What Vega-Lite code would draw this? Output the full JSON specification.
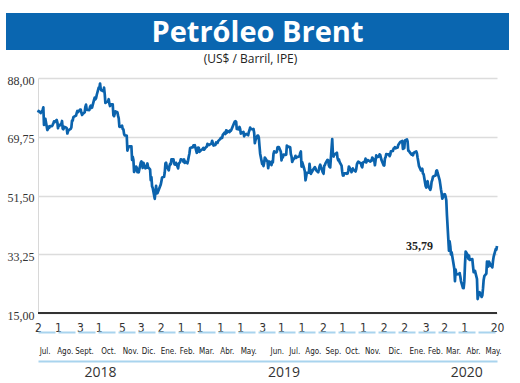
{
 "$schema": "https://vega.github.io/schema/vega-lite/v6.json",
 "padding": {"left": 6, "top": 13, "right": 0, "bottom": 0},
 "config": {"view": {"stroke": null}, "font": "Liberation Sans"},
 "spacing": 3,
 "vconcat": [
  {
   "width": 503, "height": 37,
   "view": {"fill": "#0a66b0", "stroke": null},
   "data": {"values": [{"label": "Petróleo Brent"}]},
   "mark": {"type": "text", "color": "white", "font": "Open Sans", "fontWeight": "bold", "fontSize": 29, "baseline": "middle", "align": "center", "dy": 1},
   "encoding": {"text": {"field": "label"}}
  },
  {
   "width": 491, "height": 235,
   "title": {"text": "(US$ / Barril, IPE)", "fontSize": 12, "font": "Open Sans", "fontWeight": "normal", "color": "#222", "offset": 8, "anchor": "middle", "dx": -1},
   "data": {"values": [
{"d":"2018-07-02","v":77.30},{"d":"2018-07-03","v":77.76},{"d":"2018-07-05","v":77.39},{"d":"2018-07-06","v":77.11},{"d":"2018-07-09","v":78.07},{"d":"2018-07-10","v":78.86},{"d":"2018-07-11","v":73.40},{"d":"2018-07-12","v":74.45},{"d":"2018-07-13","v":75.33},{"d":"2018-07-16","v":71.84},{"d":"2018-07-17","v":72.16},{"d":"2018-07-18","v":72.90},{"d":"2018-07-19","v":72.58},{"d":"2018-07-20","v":73.07},{"d":"2018-07-23","v":73.06},{"d":"2018-07-24","v":73.44},{"d":"2018-07-25","v":73.93},{"d":"2018-07-26","v":74.54},{"d":"2018-07-27","v":74.29},{"d":"2018-07-30","v":74.97},{"d":"2018-07-31","v":74.25},
{"d":"2018-08-01","v":72.39},{"d":"2018-08-02","v":73.45},{"d":"2018-08-03","v":73.21},{"d":"2018-08-06","v":73.75},{"d":"2018-08-07","v":74.65},{"d":"2018-08-08","v":72.28},{"d":"2018-08-09","v":72.07},{"d":"2018-08-10","v":72.81},{"d":"2018-08-13","v":72.61},{"d":"2018-08-14","v":72.46},{"d":"2018-08-15","v":70.76},{"d":"2018-08-16","v":71.43},{"d":"2018-08-17","v":71.83},{"d":"2018-08-20","v":72.21},{"d":"2018-08-21","v":72.63},{"d":"2018-08-22","v":74.78},{"d":"2018-08-23","v":74.73},{"d":"2018-08-24","v":75.82},{"d":"2018-08-27","v":76.21},{"d":"2018-08-28","v":76.31},{"d":"2018-08-29","v":77.14},{"d":"2018-08-30","v":77.77},{"d":"2018-08-31","v":77.42},
{"d":"2018-09-03","v":78.15},{"d":"2018-09-04","v":78.17},{"d":"2018-09-05","v":77.27},{"d":"2018-09-06","v":76.50},{"d":"2018-09-07","v":76.83},{"d":"2018-09-10","v":77.37},{"d":"2018-09-11","v":79.06},{"d":"2018-09-12","v":79.74},{"d":"2018-09-13","v":78.18},{"d":"2018-09-14","v":78.09},{"d":"2018-09-17","v":78.05},{"d":"2018-09-18","v":79.03},{"d":"2018-09-19","v":79.40},{"d":"2018-09-20","v":78.70},{"d":"2018-09-21","v":78.80},{"d":"2018-09-24","v":81.20},{"d":"2018-09-25","v":81.87},{"d":"2018-09-26","v":81.34},{"d":"2018-09-27","v":81.72},{"d":"2018-09-28","v":82.72},
{"d":"2018-10-01","v":84.98},{"d":"2018-10-02","v":84.80},{"d":"2018-10-03","v":86.29},{"d":"2018-10-04","v":84.58},{"d":"2018-10-05","v":84.16},{"d":"2018-10-08","v":83.91},{"d":"2018-10-09","v":85.00},{"d":"2018-10-10","v":83.09},{"d":"2018-10-11","v":80.26},{"d":"2018-10-12","v":80.43},{"d":"2018-10-15","v":80.78},{"d":"2018-10-16","v":81.41},{"d":"2018-10-17","v":80.05},{"d":"2018-10-18","v":79.29},{"d":"2018-10-19","v":79.78},{"d":"2018-10-22","v":79.83},{"d":"2018-10-23","v":76.44},{"d":"2018-10-24","v":76.17},{"d":"2018-10-25","v":76.89},{"d":"2018-10-26","v":77.62},{"d":"2018-10-29","v":77.34},{"d":"2018-10-30","v":76.31},{"d":"2018-10-31","v":75.47},
{"d":"2018-11-01","v":72.89},{"d":"2018-11-02","v":72.83},{"d":"2018-11-05","v":73.17},{"d":"2018-11-06","v":72.13},{"d":"2018-11-07","v":72.07},{"d":"2018-11-08","v":70.65},{"d":"2018-11-09","v":70.18},{"d":"2018-11-12","v":70.12},{"d":"2018-11-13","v":65.47},{"d":"2018-11-14","v":66.12},{"d":"2018-11-15","v":66.62},{"d":"2018-11-16","v":66.76},{"d":"2018-11-19","v":66.79},{"d":"2018-11-20","v":62.53},{"d":"2018-11-21","v":63.48},{"d":"2018-11-22","v":62.60},{"d":"2018-11-23","v":58.80},{"d":"2018-11-26","v":60.48},{"d":"2018-11-27","v":60.21},{"d":"2018-11-28","v":58.76},{"d":"2018-11-29","v":59.51},{"d":"2018-11-30","v":58.71},
{"d":"2018-12-03","v":61.69},{"d":"2018-12-04","v":62.08},{"d":"2018-12-05","v":61.56},{"d":"2018-12-06","v":60.06},{"d":"2018-12-07","v":61.67},{"d":"2018-12-10","v":59.97},{"d":"2018-12-11","v":60.20},{"d":"2018-12-12","v":60.15},{"d":"2018-12-13","v":61.45},{"d":"2018-12-14","v":60.28},{"d":"2018-12-17","v":59.61},{"d":"2018-12-18","v":56.26},{"d":"2018-12-19","v":57.24},{"d":"2018-12-20","v":54.35},{"d":"2018-12-21","v":53.82},{"d":"2018-12-24","v":50.47},{"d":"2018-12-26","v":54.47},{"d":"2018-12-27","v":52.16},{"d":"2018-12-28","v":52.20},{"d":"2018-12-31","v":53.80},
{"d":"2019-01-02","v":54.91},{"d":"2019-01-03","v":55.95},{"d":"2019-01-04","v":57.06},{"d":"2019-01-07","v":57.33},{"d":"2019-01-08","v":58.72},{"d":"2019-01-09","v":61.44},{"d":"2019-01-10","v":61.68},{"d":"2019-01-11","v":60.48},{"d":"2019-01-14","v":59.35},{"d":"2019-01-15","v":60.64},{"d":"2019-01-16","v":61.32},{"d":"2019-01-17","v":61.18},{"d":"2019-01-18","v":62.70},{"d":"2019-01-21","v":62.74},{"d":"2019-01-22","v":61.50},{"d":"2019-01-23","v":61.14},{"d":"2019-01-24","v":61.09},{"d":"2019-01-25","v":61.64},{"d":"2019-01-28","v":59.93},{"d":"2019-01-29","v":61.32},{"d":"2019-01-30","v":61.65},{"d":"2019-01-31","v":61.89},
{"d":"2019-02-01","v":62.75},{"d":"2019-02-04","v":62.51},{"d":"2019-02-05","v":61.98},{"d":"2019-02-06","v":62.69},{"d":"2019-02-07","v":61.63},{"d":"2019-02-08","v":62.10},{"d":"2019-02-11","v":61.51},{"d":"2019-02-12","v":62.42},{"d":"2019-02-13","v":63.61},{"d":"2019-02-14","v":64.57},{"d":"2019-02-15","v":66.25},{"d":"2019-02-18","v":66.50},{"d":"2019-02-19","v":66.45},{"d":"2019-02-20","v":67.08},{"d":"2019-02-21","v":67.07},{"d":"2019-02-22","v":67.12},{"d":"2019-02-25","v":64.76},{"d":"2019-02-26","v":65.21},{"d":"2019-02-27","v":66.39},{"d":"2019-02-28","v":66.31},
{"d":"2019-03-01","v":65.07},{"d":"2019-03-04","v":65.67},{"d":"2019-03-05","v":65.86},{"d":"2019-03-06","v":65.99},{"d":"2019-03-07","v":66.30},{"d":"2019-03-08","v":65.74},{"d":"2019-03-11","v":66.58},{"d":"2019-03-12","v":66.67},{"d":"2019-03-13","v":67.55},{"d":"2019-03-14","v":67.23},{"d":"2019-03-15","v":67.16},{"d":"2019-03-18","v":67.54},{"d":"2019-03-19","v":67.61},{"d":"2019-03-20","v":68.50},{"d":"2019-03-21","v":67.86},{"d":"2019-03-22","v":67.03},{"d":"2019-03-25","v":67.21},{"d":"2019-03-26","v":67.97},{"d":"2019-03-27","v":67.83},{"d":"2019-03-28","v":67.82},{"d":"2019-03-29","v":68.39},
{"d":"2019-04-01","v":69.01},{"d":"2019-04-02","v":69.37},{"d":"2019-04-03","v":69.31},{"d":"2019-04-04","v":69.40},{"d":"2019-04-05","v":70.34},{"d":"2019-04-08","v":71.10},{"d":"2019-04-09","v":70.61},{"d":"2019-04-10","v":71.73},{"d":"2019-04-11","v":71.02},{"d":"2019-04-12","v":71.55},{"d":"2019-04-15","v":71.18},{"d":"2019-04-16","v":71.72},{"d":"2019-04-17","v":71.62},{"d":"2019-04-18","v":71.97},{"d":"2019-04-22","v":74.04},{"d":"2019-04-23","v":74.51},{"d":"2019-04-24","v":74.57},{"d":"2019-04-25","v":74.35},{"d":"2019-04-26","v":72.15},{"d":"2019-04-29","v":72.04},{"d":"2019-04-30","v":72.80},
{"d":"2019-05-01","v":72.18},{"d":"2019-05-02","v":70.75},{"d":"2019-05-03","v":70.85},{"d":"2019-05-06","v":71.24},{"d":"2019-05-07","v":69.88},{"d":"2019-05-08","v":70.37},{"d":"2019-05-09","v":70.39},{"d":"2019-05-10","v":70.62},{"d":"2019-05-13","v":70.23},{"d":"2019-05-14","v":71.24},{"d":"2019-05-15","v":71.77},{"d":"2019-05-16","v":72.62},{"d":"2019-05-17","v":72.21},{"d":"2019-05-20","v":71.97},{"d":"2019-05-21","v":72.18},{"d":"2019-05-22","v":70.99},{"d":"2019-05-23","v":67.76},{"d":"2019-05-24","v":68.69},{"d":"2019-05-27","v":70.11},{"d":"2019-05-28","v":70.11},{"d":"2019-05-29","v":69.45},{"d":"2019-05-30","v":66.87},{"d":"2019-05-31","v":64.49},
{"d":"2019-06-03","v":61.28},{"d":"2019-06-04","v":61.97},{"d":"2019-06-05","v":60.63},{"d":"2019-06-06","v":61.67},{"d":"2019-06-07","v":63.29},{"d":"2019-06-10","v":62.29},{"d":"2019-06-11","v":62.29},{"d":"2019-06-12","v":59.97},{"d":"2019-06-13","v":61.31},{"d":"2019-06-14","v":62.01},{"d":"2019-06-17","v":60.94},{"d":"2019-06-18","v":62.14},{"d":"2019-06-19","v":61.82},{"d":"2019-06-20","v":64.45},{"d":"2019-06-21","v":65.20},{"d":"2019-06-24","v":64.86},{"d":"2019-06-25","v":65.05},{"d":"2019-06-26","v":66.49},{"d":"2019-06-27","v":66.55},{"d":"2019-06-28","v":66.55},
{"d":"2019-07-01","v":65.06},{"d":"2019-07-02","v":62.40},{"d":"2019-07-03","v":63.82},{"d":"2019-07-04","v":63.30},{"d":"2019-07-05","v":64.23},{"d":"2019-07-08","v":64.11},{"d":"2019-07-09","v":64.16},{"d":"2019-07-10","v":67.01},{"d":"2019-07-11","v":66.52},{"d":"2019-07-12","v":66.72},{"d":"2019-07-15","v":66.48},{"d":"2019-07-16","v":64.35},{"d":"2019-07-17","v":63.66},{"d":"2019-07-18","v":61.93},{"d":"2019-07-19","v":62.47},{"d":"2019-07-22","v":63.26},{"d":"2019-07-23","v":63.83},{"d":"2019-07-24","v":63.18},{"d":"2019-07-25","v":63.39},{"d":"2019-07-26","v":63.46},{"d":"2019-07-29","v":63.71},{"d":"2019-07-30","v":64.72},{"d":"2019-07-31","v":65.17},
{"d":"2019-08-01","v":60.50},{"d":"2019-08-02","v":61.89},{"d":"2019-08-05","v":59.81},{"d":"2019-08-06","v":58.94},{"d":"2019-08-07","v":56.23},{"d":"2019-08-08","v":57.38},{"d":"2019-08-09","v":58.53},{"d":"2019-08-12","v":58.57},{"d":"2019-08-13","v":61.30},{"d":"2019-08-14","v":59.48},{"d":"2019-08-15","v":58.23},{"d":"2019-08-16","v":58.64},{"d":"2019-08-19","v":59.74},{"d":"2019-08-20","v":60.03},{"d":"2019-08-21","v":60.30},{"d":"2019-08-22","v":59.92},{"d":"2019-08-23","v":59.34},{"d":"2019-08-26","v":58.70},{"d":"2019-08-27","v":59.51},{"d":"2019-08-28","v":60.49},{"d":"2019-08-29","v":61.08},{"d":"2019-08-30","v":60.43},
{"d":"2019-09-02","v":58.66},{"d":"2019-09-03","v":58.26},{"d":"2019-09-04","v":60.70},{"d":"2019-09-05","v":60.95},{"d":"2019-09-06","v":61.54},{"d":"2019-09-09","v":62.59},{"d":"2019-09-10","v":62.38},{"d":"2019-09-11","v":60.81},{"d":"2019-09-12","v":60.38},{"d":"2019-09-13","v":60.22},{"d":"2019-09-16","v":69.02},{"d":"2019-09-17","v":64.55},{"d":"2019-09-18","v":63.60},{"d":"2019-09-19","v":64.40},{"d":"2019-09-20","v":64.28},{"d":"2019-09-23","v":64.77},{"d":"2019-09-24","v":63.10},{"d":"2019-09-25","v":62.39},{"d":"2019-09-26","v":62.74},{"d":"2019-09-27","v":61.91},{"d":"2019-09-30","v":60.78},
{"d":"2019-10-01","v":58.89},{"d":"2019-10-02","v":57.69},{"d":"2019-10-03","v":57.71},{"d":"2019-10-04","v":58.37},{"d":"2019-10-07","v":58.35},{"d":"2019-10-08","v":58.24},{"d":"2019-10-09","v":58.32},{"d":"2019-10-10","v":59.10},{"d":"2019-10-11","v":60.51},{"d":"2019-10-14","v":59.35},{"d":"2019-10-15","v":58.74},{"d":"2019-10-16","v":59.42},{"d":"2019-10-17","v":59.91},{"d":"2019-10-18","v":59.42},{"d":"2019-10-21","v":58.96},{"d":"2019-10-22","v":59.70},{"d":"2019-10-23","v":61.17},{"d":"2019-10-24","v":61.67},{"d":"2019-10-25","v":62.02},{"d":"2019-10-28","v":61.57},{"d":"2019-10-29","v":61.59},{"d":"2019-10-30","v":60.61},{"d":"2019-10-31","v":60.23},
{"d":"2019-11-01","v":61.69},{"d":"2019-11-04","v":62.13},{"d":"2019-11-05","v":62.96},{"d":"2019-11-06","v":61.74},{"d":"2019-11-07","v":62.29},{"d":"2019-11-08","v":62.51},{"d":"2019-11-11","v":62.18},{"d":"2019-11-12","v":62.06},{"d":"2019-11-13","v":62.37},{"d":"2019-11-14","v":62.28},{"d":"2019-11-15","v":63.30},{"d":"2019-11-18","v":62.44},{"d":"2019-11-19","v":60.91},{"d":"2019-11-20","v":62.40},{"d":"2019-11-21","v":63.97},{"d":"2019-11-22","v":63.39},{"d":"2019-11-25","v":63.65},{"d":"2019-11-26","v":64.27},{"d":"2019-11-27","v":64.06},{"d":"2019-11-29","v":62.43},
{"d":"2019-12-02","v":60.92},{"d":"2019-12-03","v":60.82},{"d":"2019-12-04","v":62.99},{"d":"2019-12-05","v":63.39},{"d":"2019-12-06","v":64.39},{"d":"2019-12-09","v":64.25},{"d":"2019-12-10","v":64.34},{"d":"2019-12-11","v":63.72},{"d":"2019-12-12","v":64.20},{"d":"2019-12-13","v":65.22},{"d":"2019-12-16","v":65.34},{"d":"2019-12-17","v":66.10},{"d":"2019-12-18","v":66.17},{"d":"2019-12-19","v":66.54},{"d":"2019-12-20","v":66.14},{"d":"2019-12-23","v":66.39},{"d":"2019-12-24","v":67.20},{"d":"2019-12-27","v":68.16},{"d":"2019-12-30","v":68.44},{"d":"2019-12-31","v":66.00},
{"d":"2020-01-02","v":66.25},{"d":"2020-01-03","v":68.60},{"d":"2020-01-06","v":68.91},{"d":"2020-01-07","v":68.27},{"d":"2020-01-08","v":65.44},{"d":"2020-01-09","v":65.37},{"d":"2020-01-10","v":64.98},{"d":"2020-01-13","v":64.20},{"d":"2020-01-14","v":64.49},{"d":"2020-01-15","v":64.00},{"d":"2020-01-16","v":64.62},{"d":"2020-01-17","v":64.85},{"d":"2020-01-20","v":65.20},{"d":"2020-01-21","v":64.59},{"d":"2020-01-22","v":63.21},{"d":"2020-01-23","v":62.04},{"d":"2020-01-24","v":60.69},{"d":"2020-01-27","v":59.32},{"d":"2020-01-28","v":59.51},{"d":"2020-01-29","v":59.81},{"d":"2020-01-30","v":58.29},{"d":"2020-01-31","v":58.16},
{"d":"2020-02-03","v":54.45},{"d":"2020-02-04","v":53.96},{"d":"2020-02-05","v":55.28},{"d":"2020-02-06","v":55.93},{"d":"2020-02-07","v":54.47},{"d":"2020-02-10","v":53.27},{"d":"2020-02-11","v":54.01},{"d":"2020-02-12","v":55.79},{"d":"2020-02-13","v":56.34},{"d":"2020-02-14","v":57.32},{"d":"2020-02-17","v":57.67},{"d":"2020-02-18","v":57.75},{"d":"2020-02-19","v":59.12},{"d":"2020-02-20","v":59.31},{"d":"2020-02-21","v":58.50},{"d":"2020-02-24","v":56.30},{"d":"2020-02-25","v":54.95},{"d":"2020-02-26","v":53.43},{"d":"2020-02-27","v":52.18},{"d":"2020-02-28","v":50.52},
{"d":"2020-03-02","v":51.90},{"d":"2020-03-03","v":51.86},{"d":"2020-03-04","v":51.13},{"d":"2020-03-05","v":49.99},{"d":"2020-03-06","v":45.27},{"d":"2020-03-09","v":34.36},{"d":"2020-03-10","v":37.22},{"d":"2020-03-11","v":35.79},{"d":"2020-03-12","v":33.22},{"d":"2020-03-13","v":33.85},{"d":"2020-03-16","v":30.05},{"d":"2020-03-17","v":28.73},{"d":"2020-03-18","v":24.88},{"d":"2020-03-19","v":28.47},{"d":"2020-03-20","v":26.98},{"d":"2020-03-23","v":27.03},{"d":"2020-03-24","v":27.15},{"d":"2020-03-25","v":27.39},{"d":"2020-03-26","v":26.34},{"d":"2020-03-27","v":24.93},{"d":"2020-03-30","v":22.76},{"d":"2020-03-31","v":22.74},
{"d":"2020-04-01","v":24.74},{"d":"2020-04-02","v":29.94},{"d":"2020-04-03","v":34.11},{"d":"2020-04-06","v":33.05},{"d":"2020-04-07","v":31.87},{"d":"2020-04-08","v":32.84},{"d":"2020-04-09","v":31.48},{"d":"2020-04-13","v":31.74},{"d":"2020-04-14","v":29.60},{"d":"2020-04-15","v":27.69},{"d":"2020-04-16","v":27.82},{"d":"2020-04-17","v":28.08},{"d":"2020-04-20","v":25.57},{"d":"2020-04-21","v":19.33},{"d":"2020-04-22","v":20.37},{"d":"2020-04-23","v":21.33},{"d":"2020-04-24","v":21.44},{"d":"2020-04-27","v":19.99},{"d":"2020-04-28","v":20.46},{"d":"2020-04-29","v":22.54},{"d":"2020-04-30","v":25.27},
{"d":"2020-05-01","v":26.44},{"d":"2020-05-04","v":27.20},{"d":"2020-05-05","v":30.97},{"d":"2020-05-06","v":29.72},{"d":"2020-05-07","v":29.46},{"d":"2020-05-08","v":30.97},{"d":"2020-05-11","v":29.63},{"d":"2020-05-12","v":29.98},{"d":"2020-05-13","v":29.19},{"d":"2020-05-14","v":31.13},{"d":"2020-05-15","v":32.50},{"d":"2020-05-18","v":34.81},{"d":"2020-05-19","v":34.65},{"d":"2020-05-20","v":35.79}
   ]},
   "resolve": {"axis": {"x": "independent", "y": "independent"}},
   "layer": [
    {
     "mark": {"type": "line", "color": "#0b63ad", "strokeWidth": 2.7, "strokeJoin": "round"},
     "encoding": {
      "x": {"field": "d", "type": "temporal", "scale": {"type": "utc", "nice": false, "range": [32, 491]},
        "axis": {"orient": "bottom", "title": null, "domain": false, "ticks": false, "grid": false,
          "values": [
           {"year": 2018, "month": 7, "date": 2, "utc": true},{"year": 2018, "month": 8, "date": 1, "utc": true},{"year": 2018, "month": 9, "date": 3, "utc": true},{"year": 2018, "month": 10, "date": 1, "utc": true},{"year": 2018, "month": 11, "date": 5, "utc": true},{"year": 2018, "month": 12, "date": 3, "utc": true},
           {"year": 2019, "month": 1, "date": 2, "utc": true},{"year": 2019, "month": 2, "date": 1, "utc": true},{"year": 2019, "month": 3, "date": 1, "utc": true},{"year": 2019, "month": 4, "date": 1, "utc": true},{"year": 2019, "month": 5, "date": 1, "utc": true},{"year": 2019, "month": 6, "date": 3, "utc": true},{"year": 2019, "month": 7, "date": 1, "utc": true},{"year": 2019, "month": 8, "date": 1, "utc": true},{"year": 2019, "month": 9, "date": 2, "utc": true},{"year": 2019, "month": 10, "date": 1, "utc": true},{"year": 2019, "month": 11, "date": 1, "utc": true},{"year": 2019, "month": 12, "date": 2, "utc": true},
           {"year": 2020, "month": 1, "date": 2, "utc": true},{"year": 2020, "month": 2, "date": 3, "utc": true},{"year": 2020, "month": 3, "date": 2, "utc": true},{"year": 2020, "month": 4, "date": 1, "utc": true},{"year": 2020, "month": 5, "date": 20, "utc": true}
          ],
          "labelExpr": "'' + utcdate(datum.value)",
          "labelFont": "Liberation Sans Narrow, DejaVu Sans Condensed, sans-serif", "labelFontSize": 12, "labelColor": "#333",
          "labelPadding": 9, "labelOverlap": false, "labelFlush": false, "labelBound": false}},
      "y": {"field": "v", "type": "quantitative", "scale": {"domain": [15, 88], "nice": false, "zero": false},
        "axis": {"orient": "left", "offset": -32, "title": null, "values": [15, 33.25, 51.5, 69.75, 88],
          "labelExpr": "replace(format(datum.value, '.2f'), '.', ',')",
          "grid": true, "gridColor": "#dcdcdc", "gridWidth": 1.5,
          "domain": true, "domainColor": "#d8d8d8", "domainWidth": 1,
          "ticks": false, "labelFont": "Liberation Serif", "labelFontSize": 12, "labelColor": "#333",
          "labelPadding": 4, "labelOffset": 2}}
     }
    },
    {
     "data": {"values": [{"d": "2020-05-20", "v": 35.79, "label": "35,79"}]},
     "mark": {"type": "text", "font": "Liberation Serif", "fontWeight": "bold", "fontSize": 12, "color": "#222", "align": "right", "baseline": "middle", "dx": -64},
     "encoding": {
      "x": {"field": "d", "type": "temporal", "scale": {"type": "utc", "nice": false, "range": [32, 491]},
        "axis": {"orient": "bottom", "offset": 19, "title": null, "ticks": false, "grid": false,
          "domain": true, "domainColor": "#a9d4ee", "domainWidth": 2, "domainDash": [17, 3],
          "values": [
           {"year": 2018, "month": 7, "date": 12, "utc": true},{"year": 2018, "month": 8, "date": 11, "utc": true},{"year": 2018, "month": 9, "date": 9, "utc": true},{"year": 2018, "month": 10, "date": 15, "utc": true},{"year": 2018, "month": 11, "date": 17, "utc": true},{"year": 2018, "month": 12, "date": 14, "utc": true},
           {"year": 2019, "month": 1, "date": 13, "utc": true},{"year": 2019, "month": 2, "date": 10, "utc": true},{"year": 2019, "month": 3, "date": 11, "utc": true},{"year": 2019, "month": 4, "date": 11, "utc": true},{"year": 2019, "month": 5, "date": 13, "utc": true},{"year": 2019, "month": 6, "date": 25, "utc": true},{"year": 2019, "month": 7, "date": 21, "utc": true},{"year": 2019, "month": 8, "date": 18, "utc": true},{"year": 2019, "month": 9, "date": 17, "utc": true},{"year": 2019, "month": 10, "date": 16, "utc": true},{"year": 2019, "month": 11, "date": 15, "utc": true},{"year": 2019, "month": 12, "date": 19, "utc": true},
           {"year": 2020, "month": 1, "date": 21, "utc": true},{"year": 2020, "month": 2, "date": 17, "utc": true},{"year": 2020, "month": 3, "date": 15, "utc": true},{"year": 2020, "month": 4, "date": 14, "utc": true},{"year": 2020, "month": 5, "date": 14, "utc": true}
          ],
          "labelExpr": "['Ene.','Feb.','Mar.','Abr.','May.','Jun.','Jul.','Ago.', utcyear(datum.value) == 2018 ? 'Sept.' : 'Sep.','Oct.','Nov.','Dic.'][utcmonth(datum.value)]",
          "labelFont": "Liberation Sans Narrow, DejaVu Sans Condensed, sans-serif", "labelFontSize": 8, "labelColor": "#222",
          "labelPadding": 15, "labelOverlap": false, "labelFlush": false, "labelBound": false}},
      "y": {"field": "v", "type": "quantitative", "scale": {"domain": [15, 88], "nice": false, "zero": false}, "axis": null},
      "text": {"field": "label"}
     }
    },
    {
     "mark": {"type": "rule", "color": "#333333", "strokeWidth": 2},
     "encoding": {
      "x": {"aggregate": "min", "field": "d", "type": "temporal", "scale": {"type": "utc", "nice": false, "range": [32, 491]},
        "axis": {"orient": "bottom", "offset": 48, "title": null, "ticks": false, "grid": false,
          "domain": true, "domainColor": "#a9d4ee", "domainWidth": 2,
          "values": [{"year": 2018, "month": 10, "date": 3, "utc": true},{"year": 2019, "month": 7, "date": 5, "utc": true},{"year": 2020, "month": 4, "date": 4, "utc": true}],
          "labelExpr": "'' + utcyear(datum.value)",
          "labelFont": "Open Sans", "labelFontSize": 14, "labelColor": "#333",
          "labelPadding": 4, "labelOverlap": false, "labelFlush": false, "labelBound": false}},
      "x2": {"aggregate": "max", "field": "d"},
      "y": {"datum": 15, "type": "quantitative", "axis": null}
     }
    }
   ]
  }
 ]
}
